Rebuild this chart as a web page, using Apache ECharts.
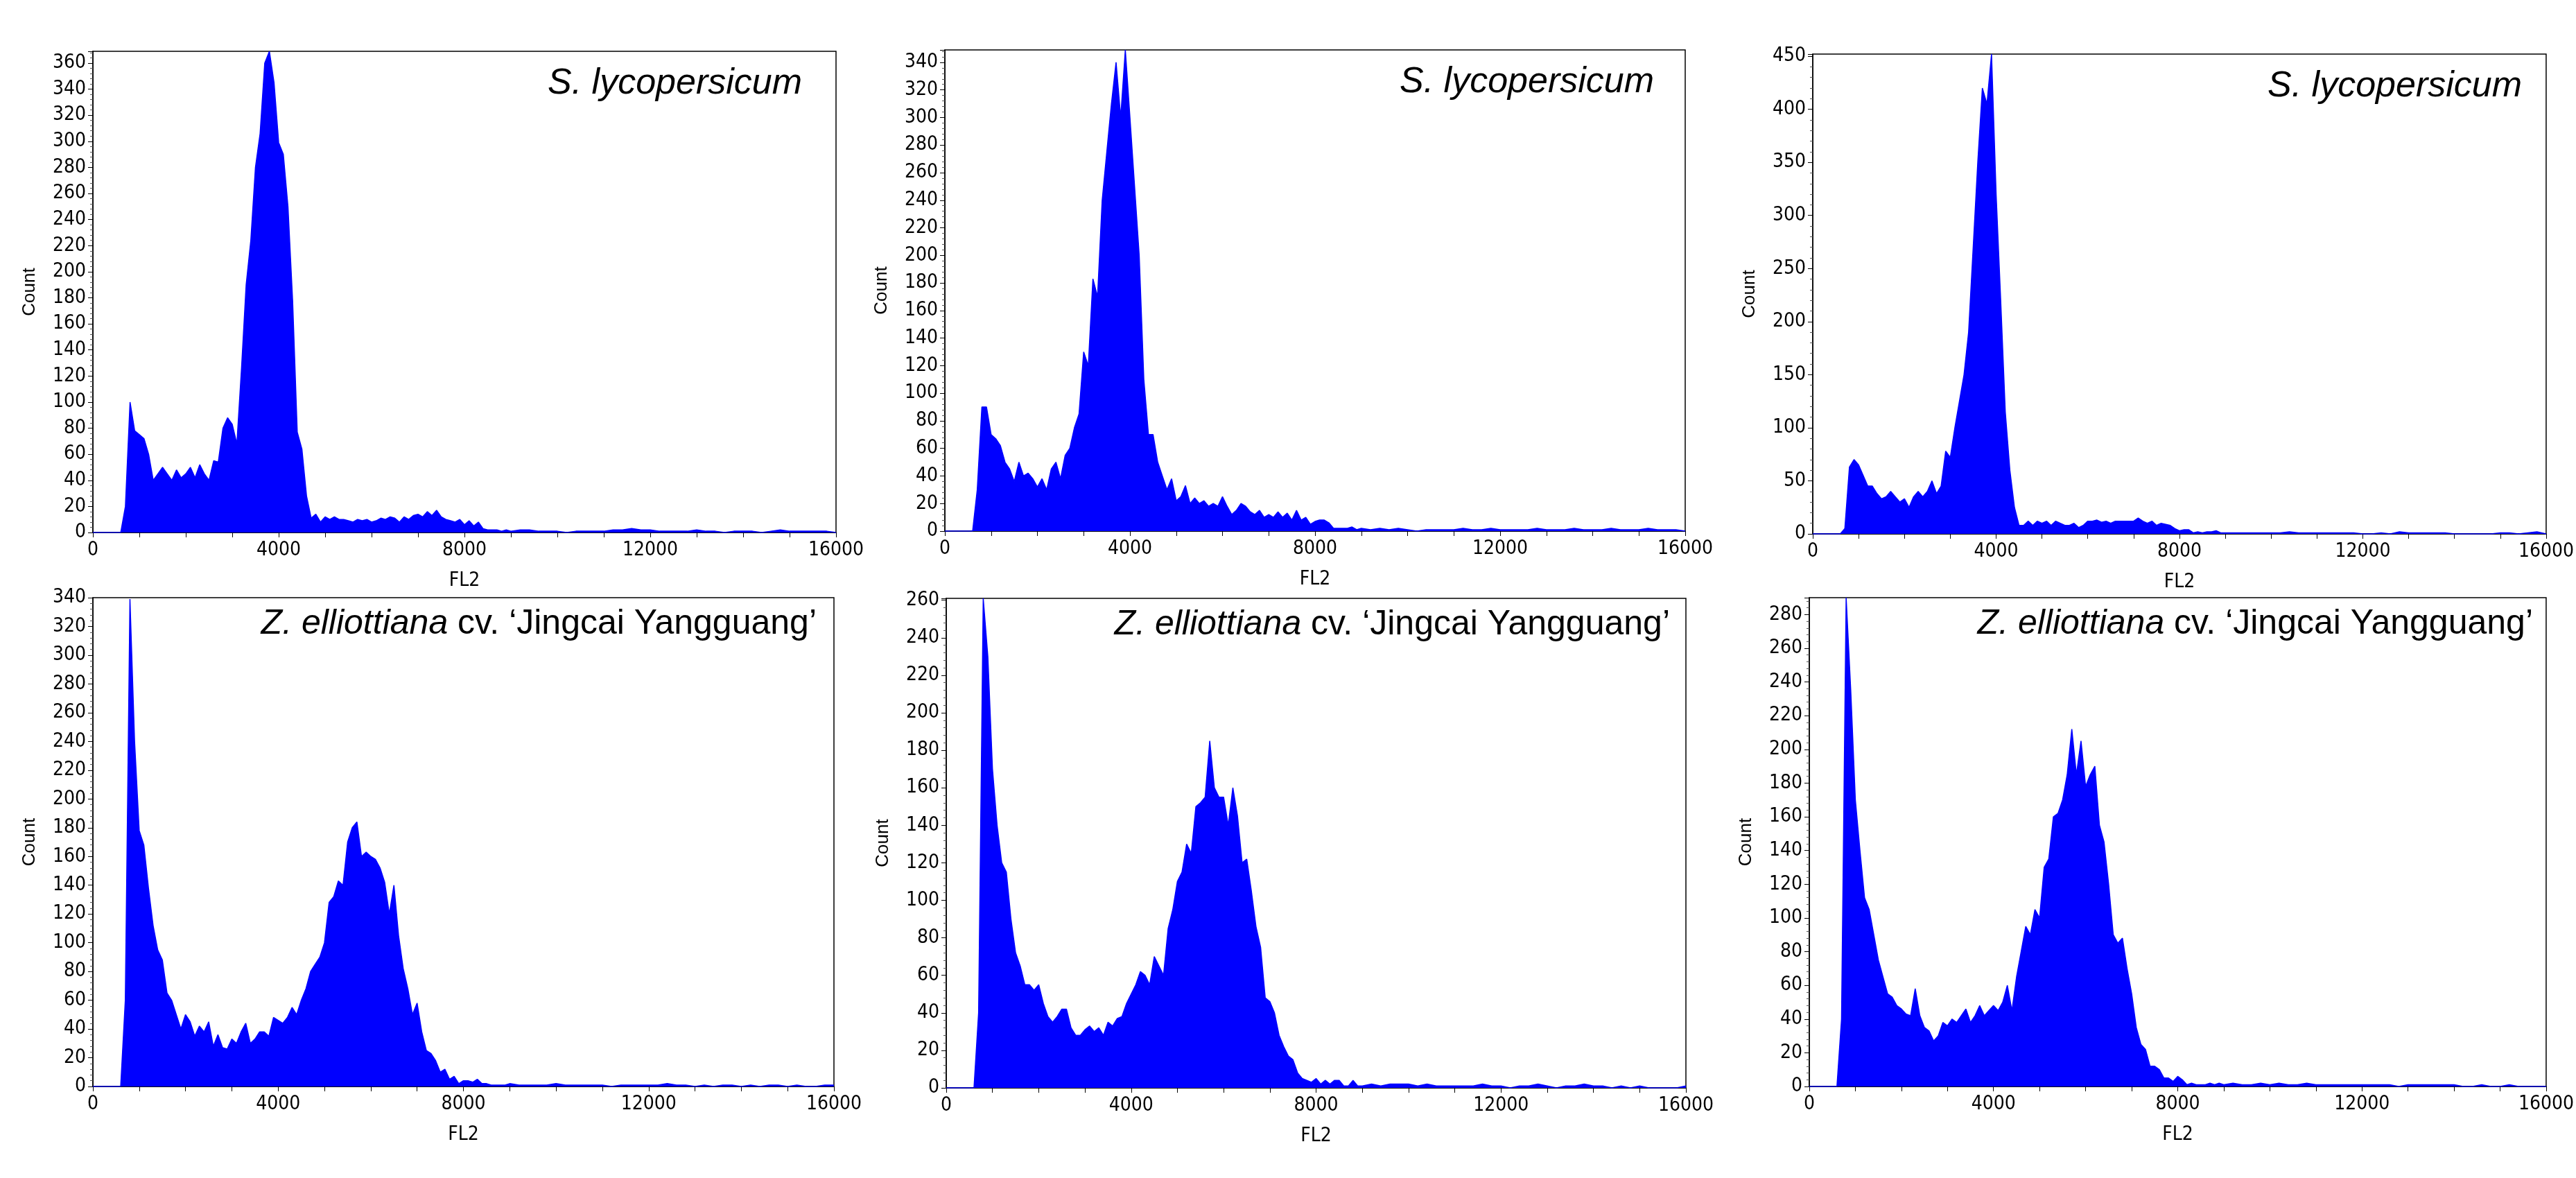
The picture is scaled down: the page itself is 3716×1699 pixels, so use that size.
<!DOCTYPE html>
<html><head><meta charset="utf-8">
<script src="https://cdn.jsdelivr.net/npm/echarts@6/dist/echarts.min.js"></script>
<style>html,body{margin:0;padding:0;background:#fff}#c{width:3716px;height:1699px}</style>
</head><body><div id="c"></div>
<script>
// FL2 bins: 0..9000 step 100, then 9200..16000 step 200
const leadZeros = [0,0,0,0,0,0]; // 0..500
// values from 600 to 9000 (step 100)
const p1Main = [0,20,100,78,75,72,60,40,45,50,45,40,48,42,45,50,42,52,45,40,55,54,80,88,83,68,126,190,224,280,306,360,369,345,299,290,250,178,77,64,28,11,14,8,12,10,12,10,10,9,8,10,9,10,8,9,11,10,12,11,8,12,10,13,14,12,16,13,17,12,10,9,8,10,6,9,5,8,3,2,2,2,1,2,1,2];
const p2Main = [0,30,90,90,70,67,62,50,45,36,50,40,42,38,32,38,30,45,50,38,55,60,75,85,130,120,183,170,240,275,310,340,300,349,300,250,200,110,70,70,50,40,30,38,22,25,33,20,24,20,22,18,20,18,25,18,12,15,20,18,14,12,15,10,12,10,14,10,13,8,15,8,10,5,7,8,8,6,2,2,2,2,3,1,2];
const p3Main = [0,5,63,70,65,55,45,45,38,33,35,40,35,30,33,25,35,40,35,40,50,38,45,78,72,100,125,150,190,270,350,420,405,452,320,220,115,60,25,8,8,12,8,12,10,12,8,12,10,8,8,10,6,8,12,12,13,11,12,10,12,12,12,12,12,15,12,10,12,8,10,9,8,5,3,4,4,1,2,1,2,2,3,1,1];
const p4Main = [0,60,339,240,178,168,138,112,95,88,65,60,50,40,50,45,35,42,38,45,28,36,27,26,33,30,38,44,30,33,38,38,35,48,46,44,48,55,50,60,68,80,85,90,100,128,132,143,140,170,180,184,160,163,160,158,152,142,120,140,105,82,68,50,58,38,25,23,18,10,12,5,7,2,4,4,3,5,2,2,1,1,1,1,2];
const p5Main = [0,40,261,230,170,140,120,115,90,72,65,55,55,52,55,45,38,35,38,42,42,32,28,28,31,33,30,32,28,35,33,37,38,45,50,55,62,60,55,70,65,60,85,95,110,115,130,125,150,152,155,185,160,155,155,140,160,145,120,122,105,86,75,48,46,40,28,22,17,15,8,5,4,3,5,2,4,2,4,4,1,1,4,1,1];
const p6Main = [0,40,290,235,170,140,112,105,90,75,65,55,53,48,46,43,42,58,42,35,33,27,30,38,36,40,38,42,46,38,42,48,42,45,48,45,50,60,45,65,80,95,90,105,100,130,135,160,162,170,185,212,185,205,178,185,190,155,145,120,90,85,88,70,55,35,25,22,12,12,10,5,5,3,6,4,1,2,1,1,1,2,1,2,1];
// values from 9200 to 16000 (step 200)
const p1Tail = [2,1,1,1,0,1,1,1,1,2,2,3,2,2,1,1,1,1,2,1,1,0,1,1,1,0,1,2,1,1,1,1,1,0,0];
const p2Tail = [1,2,1,2,1,0,1,1,1,1,2,1,1,2,1,1,1,1,2,1,1,1,2,1,1,1,2,1,1,1,2,1,1,1,0];
const p3Tail = [1,1,1,1,1,1,2,1,1,1,1,1,1,1,0,0,1,0,2,1,1,1,1,1,0,0,0,0,0,1,1,0,1,2,0];
const p4Tail = [1,1,1,1,2,1,1,1,1,1,0,1,1,1,1,1,2,1,1,0,1,0,1,1,0,1,0,1,1,0,1,0,0,1,1];
const p5Tail = [2,1,2,2,2,1,2,1,1,1,1,1,2,1,1,0,1,1,2,1,0,1,1,2,1,1,0,1,0,1,0,0,0,0,1];
const p6Tail = [2,1,1,2,1,2,1,1,2,1,1,1,1,1,1,1,1,1,0,1,1,1,1,1,1,0,0,1,0,0,1,0,0,0,0];

const xTicks = [0,4000,8000,12000,16000];
const topTitle = 'S. lycopersicum';
const botTitle = ['Z. elliottiana',' cv. ‘Jingcai Yangguang’'];

const xs = [];
for (let x = 0; x <= 9000; x += 100) xs.push(x);
for (let x = 9200; x <= 16000; x += 200) xs.push(x);

const panels = [
  {main:p1Main, tail:p1Tail, ymax:369, yint:20, l:134, r:1206, t:74,  b:768,  top:true},
  {main:p2Main, tail:p2Tail, ymax:349, yint:20, l:1363,r:2431, t:72,  b:766,  top:true},
  {main:p3Main, tail:p3Tail, ymax:452, yint:50, l:2615,r:3674, t:78,  b:770,  top:true},
  {main:p4Main, tail:p4Tail, ymax:340, yint:20, l:134, r:1203, t:862, b:1567, top:false},
  {main:p5Main, tail:p5Tail, ymax:261, yint:20, l:1365,r:2432, t:863, b:1569, top:false},
  {main:p6Main, tail:p6Tail, ymax:290, yint:20, l:2610,r:3678, t:862, b:1567, top:false}
];
const W = 3716;
const FONT = '"DejaVu Sans Condensed","Liberation Sans Narrow",sans-serif';
const TFONT = '"Liberation Sans",sans-serif';
const grid=[], xAxis=[], yAxis=[], series=[], title=[];
panels.forEach((p,i)=>{
  grid.push({left:p.l, top:p.t, width:p.r-p.l, height:p.b-p.t, show:true, borderColor:'#000', borderWidth:1.5, backgroundColor:'#fff'});
  xAxis.push({type:'value', gridIndex:i, min:0, max:16000, interval:1000,
    name:'FL2', nameLocation:'middle', nameGap:56, nameTextStyle:{fontFamily:FONT, fontSize:28, color:'#000'},
    axisLine:{lineStyle:{color:'#000', width:1.5}},
    axisTick:{show:true, length:7, lineStyle:{color:'#000'}},
    axisLabel:{fontFamily:FONT, fontSize:28, color:'#000', margin:12, formatter:v=> xTicks.includes(v)? String(v):''},
    splitLine:{show:false}});
  yAxis.push({type:'value', gridIndex:i, min:0, max:p.ymax, interval:p.yint,
    name:'Count', nameLocation:'middle', nameGap:78, nameRotate:90,
    nameTextStyle:{fontFamily:TFONT, fontSize:26, color:'#000'},
    axisLine:{show:true, lineStyle:{color:'#000', width:1.5}},
    axisTick:{show:true, length:7, lineStyle:{color:'#000'}},
    minorTick:{show:true, splitNumber:5, length:4, lineStyle:{color:'#555'}},
    axisLabel:{fontFamily:FONT, fontSize:28, color:'#000', margin:10, showMaxLabel:p.ymax%p.yint===0},
    splitLine:{show:false}});
  const vals = leadZeros.concat(p.main, p.tail);
  series.push({type:'line', xAxisIndex:i, yAxisIndex:i, data:xs.map((x,k)=>[x, vals[k]]),
    symbol:'none', silent:true, animation:false,
    lineStyle:{color:'#0000ff', width:1.5}, areaStyle:{color:'#0000ff', opacity:1}});
  if (p.top) {
    title.push({text:topTitle, right:W-(p.l+(1162-134)), top:p.t+16,
      textStyle:{fontFamily:TFONT, fontStyle:'italic', fontWeight:'normal', fontSize:52, color:'#000'}});
  } else {
    title.push({text:'{i|'+botTitle[0]+'}{n|'+botTitle[1]+'}', right:W-(p.l+(1183-134)), top:p.t+8,
      textStyle:{fontWeight:'normal', rich:{i:{fontFamily:TFONT, fontStyle:'italic', fontWeight:'normal', fontSize:50, color:'#000'},
                       n:{fontFamily:TFONT, fontWeight:'normal', fontSize:50, color:'#000'}}}});
  }
});
const chart = echarts.init(document.getElementById('c'), null, {renderer:'canvas'});
chart.setOption({animation:false, backgroundColor:'#fff', title, grid, xAxis, yAxis, series});
</script></body></html>
